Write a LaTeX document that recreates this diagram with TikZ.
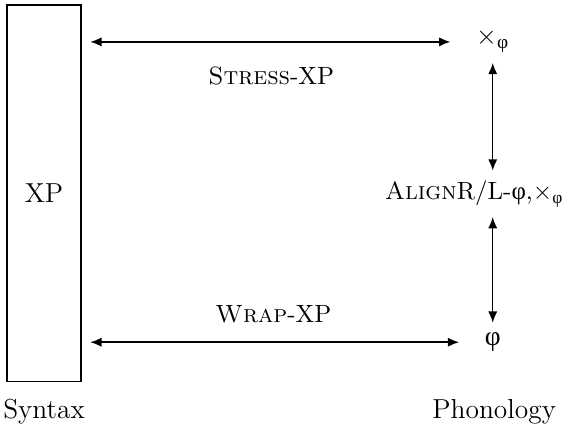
\documentclass[tikz,border=0pt]{standalone}
\usepackage{fontspec}
\newfontfamily\grk{Liberation Serif}
\newcommand{\phon}{{\grk φ}}
\usetikzlibrary{arrows.meta, positioning}
\tikzset{
	boxnode/.style={
			draw=black,
			semithick,
			minimum width=1.04cm,
			minimum height=5.3cm,
			inner sep=0pt
		},
	labelnode/.style={
			inner sep=1pt
		},
	scnode/.style={
			font=\fontsize{10}{12}\selectfont
		},
	linkarrow/.style={
			semithick,
			{Latex[length=1.6mm,width=1.3mm]}-{Latex[length=1.6mm,width=1.3mm]}
		}
}

\begin{document}
\begin{tikzpicture}[every node/.style={font=\fontsize{11}{13}\selectfont}]
\useasboundingbox (0,0) rectangle (8,6.14);

\node[boxnode] (xp) at (0.62,3.42) {XP};

\node[labelnode] (cross) at (6.94,5.55) {×\textsubscript{\phon}};
\node[labelnode, scnode, anchor=east] (align) at (7.98,3.41) {\textsc{Align}R/L-\phon,×\textsubscript{\phon}};
\node[labelnode] (phi) at (6.94,1.32) {\phon};

\node[scnode] (stress) at (3.82,5.07) {\textsc{Stress}-XP};
\node[scnode] (wrap) at (3.85,1.72) {\textsc{Wrap}-XP};

\node (syn) at (0.62,0.34) {Syntax};
\node (phono) at (6.96,0.34) {Phonology};

% syntax <-> phonology
\draw[linkarrow, shorten <=0.12cm, shorten >=0.32cm] (xp.east |- cross) -- (cross);
\draw[linkarrow, shorten <=0.12cm, shorten >=0.32cm] (xp.east |- phi) -- (phi);

% inside phonology
\draw[linkarrow, shorten <=0.1cm, shorten >=0.1cm] (cross.south) -- (align.north -| cross);
\draw[linkarrow, shorten <=0.1cm, shorten >=0.1cm] (align.south -| phi) -- (phi.north);
\end{tikzpicture}
\end{document}
